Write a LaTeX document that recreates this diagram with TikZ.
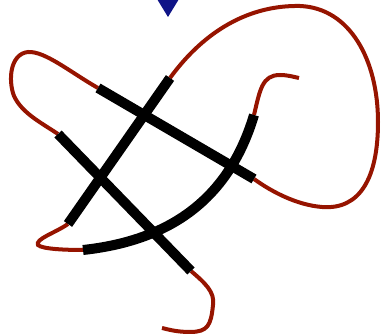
\documentclass[tikz,border=0pt]{standalone}
\begin{document}
\begin{tikzpicture}[x=1pt,y=-1pt,
  strand/.style={line width=4pt,draw={rgb,255:red,150;green,20;blue,0},line cap=butt},
  band/.style={line width=10pt,draw=black,line cap=butt}]
\useasboundingbox (0,0) rectangle (381,336);
% endpoints of the thick bands
\coordinate (a1) at (68,224);  \coordinate (a2) at (170,78);
\coordinate (b1) at (98,88);   \coordinate (b2) at (254,179);
\coordinate (c1) at (58,134);  \coordinate (c2) at (191,271);
\coordinate (d1) at (83,250);  \coordinate (d2) at (254,115);
% blue marker
\fill[fill={rgb,255:red,15;green,20;blue,135}] (157,-1) -- (179,-1) -- (168,17) -- cycle;
% thin strands
\draw[strand] (a2) .. controls (205,30) and (250,5) .. (300,6)
  .. controls (350,8) and (378,60) .. (378,122)
  .. controls (378,178) and (360,210) .. (322,207)
  .. controls (297,205) and (272,192) .. (b2);
\draw[strand] (d2) .. controls (260,90) and (262,75) .. (280,75)
  .. controls (288,75) and (294,77) .. (299,78);
\draw[strand] (b1) .. controls (70,72) and (45,51) .. (28,52)
  .. controls (10,54) and (8,80) .. (14,96)
  .. controls (22,113) and (40,122) .. (c1);
\draw[strand] (a1) .. controls (55,233) and (35,239) .. (38,245)
  .. controls (42,249) and (65,250) .. (d1);
\draw[strand] (c2) .. controls (205,283) and (215,292) .. (213,305)
  .. controls (211,325) and (208,332) .. (190,332)
  .. controls (178,332) and (170,330) .. (162,328);
% thick bands
\draw[band] (a1) -- (a2);
\draw[band] (b1) -- (b2);
\draw[band] (c1) -- (c2);
\draw[band] (d1) .. controls (175,240) and (230,195) .. (d2);
\end{tikzpicture}
\end{document}
